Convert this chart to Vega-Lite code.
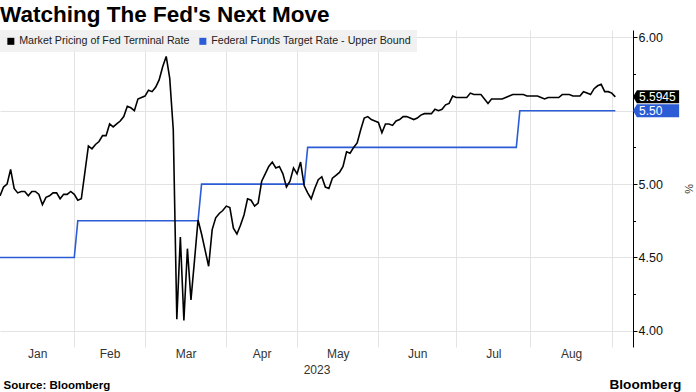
{
"$schema": "https://vega.github.io/schema/vega-lite/v6.json",
"width": 633, "height": 317,
"autosize": {"type": "none"},
"padding": {"left": 0, "top": 30, "right": 63, "bottom": 45},
"background": "white",
"config": {"view": {"stroke": null}, "font": "Liberation Sans"},
"title": {"text": "Watching The Fed's Next Move", "anchor": "start", "frame": "group", "font": "Liberation Sans", "fontSize": 22.5, "fontWeight": "bold", "color": "#000000", "offset": 4},
"datasets": {
"terminal": [
{"day":1,"rate":4.92},{"day":2,"rate":4.98},{"day":3,"rate":5.00},{"day":4,"rate":5.10},{"day":5,"rate":4.97},{"day":6,"rate":4.94},{"day":7,"rate":4.95},{"day":8,"rate":4.95},{"day":9,"rate":4.92},{"day":10,"rate":4.95},
{"day":11,"rate":4.95},{"day":12,"rate":4.93},{"day":13,"rate":4.86},{"day":14,"rate":4.91},{"day":15,"rate":4.92},{"day":16,"rate":4.94},{"day":17,"rate":4.94},{"day":18,"rate":4.90},{"day":19,"rate":4.93},{"day":20,"rate":4.93},
{"day":21,"rate":4.95},{"day":22,"rate":4.93},{"day":23,"rate":4.89},{"day":24,"rate":4.90},{"day":25,"rate":5.08},{"day":26,"rate":5.26},{"day":27,"rate":5.24},{"day":28,"rate":5.27},{"day":29,"rate":5.29},{"day":30,"rate":5.33},
{"day":31,"rate":5.33},{"day":32,"rate":5.41},{"day":33,"rate":5.39},{"day":34,"rate":5.41},{"day":35,"rate":5.43},{"day":36,"rate":5.46},{"day":37,"rate":5.53},{"day":38,"rate":5.52},{"day":39,"rate":5.50},{"day":40,"rate":5.58},
{"day":41,"rate":5.59},{"day":42,"rate":5.60},{"day":43,"rate":5.64},{"day":44,"rate":5.63},{"day":45,"rate":5.66},{"day":46,"rate":5.71},{"day":47,"rate":5.80},{"day":48,"rate":5.87},{"day":49,"rate":5.72},{"day":50,"rate":5.37},
{"day":51,"rate":4.08},{"day":52,"rate":4.64},{"day":53,"rate":4.07},{"day":54,"rate":4.56},{"day":55,"rate":4.21},{"day":56,"rate":4.48},{"day":57,"rate":4.755},{"day":58,"rate":4.66},{"day":59,"rate":4.55},{"day":60,"rate":4.44},
{"day":61,"rate":4.69},{"day":62,"rate":4.77},{"day":63,"rate":4.80},{"day":64,"rate":4.82},{"day":65,"rate":4.85},{"day":66,"rate":4.84},{"day":67,"rate":4.70},{"day":68,"rate":4.66},{"day":69,"rate":4.72},{"day":70,"rate":4.79},
{"day":71,"rate":4.90},{"day":72,"rate":4.89},{"day":73,"rate":4.85},{"day":74,"rate":4.87},{"day":75,"rate":5.02},{"day":76,"rate":5.07},{"day":77,"rate":5.12},{"day":78,"rate":5.15},{"day":79,"rate":5.11},{"day":80,"rate":5.12},
{"day":81,"rate":5.07},{"day":82,"rate":4.98},{"day":83,"rate":5.02},{"day":84,"rate":5.11},{"day":85,"rate":5.07},{"day":86,"rate":5.15},{"day":87,"rate":4.99},{"day":88,"rate":4.94},{"day":89,"rate":4.90},{"day":90,"rate":4.97},
{"day":91,"rate":5.03},{"day":92,"rate":5.05},{"day":93,"rate":4.98},{"day":94,"rate":4.97},{"day":95,"rate":5.04},{"day":96,"rate":5.06},{"day":97,"rate":5.08},{"day":98,"rate":5.12},{"day":99,"rate":5.22},{"day":100,"rate":5.21},
{"day":101,"rate":5.25},{"day":102,"rate":5.28},{"day":103,"rate":5.37},{"day":104,"rate":5.45},{"day":105,"rate":5.46},{"day":106,"rate":5.44},{"day":107,"rate":5.43},{"day":108,"rate":5.42},{"day":109,"rate":5.35},{"day":110,"rate":5.41},
{"day":111,"rate":5.41},{"day":112,"rate":5.40},{"day":113,"rate":5.43},{"day":114,"rate":5.44},{"day":115,"rate":5.46},{"day":116,"rate":5.46},{"day":117,"rate":5.45},{"day":118,"rate":5.44},{"day":119,"rate":5.45},{"day":120,"rate":5.47},
{"day":121,"rate":5.48},{"day":122,"rate":5.48},{"day":123,"rate":5.48},{"day":124,"rate":5.51},{"day":125,"rate":5.50},{"day":126,"rate":5.51},{"day":127,"rate":5.54},{"day":128,"rate":5.55},{"day":129,"rate":5.60},{"day":130,"rate":5.59},
{"day":131,"rate":5.59},{"day":132,"rate":5.59},{"day":133,"rate":5.59},{"day":134,"rate":5.62},{"day":135,"rate":5.61},{"day":136,"rate":5.61},{"day":137,"rate":5.61},{"day":138,"rate":5.58},{"day":139,"rate":5.55},{"day":140,"rate":5.58},
{"day":141,"rate":5.58},{"day":142,"rate":5.58},{"day":143,"rate":5.58},{"day":144,"rate":5.59},{"day":145,"rate":5.60},{"day":146,"rate":5.61},{"day":147,"rate":5.61},{"day":148,"rate":5.61},{"day":149,"rate":5.61},{"day":150,"rate":5.60},
{"day":151,"rate":5.60},{"day":152,"rate":5.60},{"day":153,"rate":5.60},{"day":154,"rate":5.59},{"day":155,"rate":5.58},{"day":156,"rate":5.59},{"day":157,"rate":5.59},{"day":158,"rate":5.59},{"day":159,"rate":5.59},{"day":160,"rate":5.61},
{"day":161,"rate":5.61},{"day":162,"rate":5.61},{"day":163,"rate":5.60},{"day":164,"rate":5.60},{"day":165,"rate":5.60},{"day":166,"rate":5.63},{"day":167,"rate":5.62},{"day":168,"rate":5.61},{"day":169,"rate":5.65},{"day":170,"rate":5.67},
{"day":171,"rate":5.68},{"day":172,"rate":5.63},{"day":173,"rate":5.63},{"day":174,"rate":5.62},{"day":175,"rate":5.5945}
],
"fedfunds": [
{"day":1,"rate":4.50},{"day":22,"rate":4.50},{"day":23,"rate":4.75},{"day":57,"rate":4.75},{"day":58,"rate":5.00},{"day":87,"rate":5.00},{"day":88,"rate":5.25},{"day":147,"rate":5.25},{"day":148,"rate":5.50},{"day":175,"rate":5.50}
],
"tags": [
{"series":"Market Pricing of Fed Terminal Rate","rate":5.5945,"label":"5.5945"},
{"series":"Federal Funds Target Rate - Upper Bound","rate":5.50,"label":"5.50"}
]
},
"layer": [
{
"data": {"name": "fedfunds"},
"mark": {"type": "line", "strokeWidth": 1.6},
"encoding": {
"x": {"field": "day", "type": "quantitative", "scale": {"domain": [1, 180], "nice": false, "zero": false},
"axis": {"orient": "top", "title": "Bloomberg", "labels": false, "ticks": false, "domain": false, "grid": false, "titleX": 609, "titleY": 358, "titleAlign": "left", "titleBaseline": "alphabetic", "titleAngle": 0, "titleFont": "Liberation Sans", "titleFontSize": 13.6, "titleFontWeight": "bold", "titleColor": "#000000"}},
"y": {"field": "rate", "type": "quantitative", "scale": {"domain": [3.89, 6.05], "nice": false, "zero": false},
"axis": {"orient": "left", "title": "Source: Bloomberg", "labels": false, "ticks": false, "domain": false, "grid": false, "titleX": 3, "titleY": 358, "titleAngle": 0, "titleAlign": "left", "titleBaseline": "alphabetic", "titleFont": "Liberation Sans", "titleFontSize": 11.5, "titleFontWeight": "bold", "titleColor": "#000000"}},
"color": {"datum": "Federal Funds Target Rate - Upper Bound", "type": "nominal"}
}
},
{
"data": {"name": "terminal"},
"mark": {"type": "line", "strokeWidth": 1.6},
"encoding": {
"x": {"field": "day", "type": "quantitative", "scale": {"domain": [1, 180], "nice": false, "zero": false},
"axis": {"orient": "bottom", "title": "2023", "values": [11.5, 22, 32, 42, 53.5, 65, 75, 85, 96.5, 108, 119, 130, 140.5, 151, 162.5, 174],
"labelExpr": "datum.value == 11.5 ? 'Jan' : datum.value == 32 ? 'Feb' : datum.value == 53.5 ? 'Mar' : datum.value == 75 ? 'Apr' : datum.value == 96.5 ? 'May' : datum.value == 119 ? 'Jun' : datum.value == 140.5 ? 'Jul' : datum.value == 162.5 ? 'Aug' : ''",
"ticks": false, "domain": false, "grid": true, "gridColor": "#e3e3e3", "gridWidth": 1,
"gridOpacity": {"condition": {"test": "indexof([22,42,65,85,108,130,151,174], datum.value) >= 0", "value": 1}, "value": 0},
"labelFlush": false, "labelOverlap": false, "labelBound": false, "labelPadding": 1, "labelFont": "Liberation Sans", "labelFontSize": 12, "labelColor": "#333333",
"titleFont": "Liberation Sans", "titleFontSize": 12, "titleFontWeight": "normal", "titleColor": "#333333", "titlePadding": 5}},
"y": {"field": "rate", "type": "quantitative", "scale": {"domain": [3.89, 6.05], "nice": false, "zero": false},
"axis": {"orient": "right", "title": "%", "values": [4, 4.25, 4.5, 4.75, 5, 5.25, 5.5, 5.75, 6],
"labelExpr": "datum.value % 0.5 == 0 ? format(datum.value, '.2f') : ''",
"tickSize": {"condition": {"test": "datum.value % 0.5 == 0", "value": 4}, "value": 2.5},
"tickColor": "#000000", "domainColor": "#000000", "domainWidth": 1,
"grid": true, "gridColor": "#e3e3e3", "gridOpacity": {"condition": {"test": "datum.value % 0.5 == 0", "value": 1}, "value": 0},
"labelFont": "Liberation Sans", "labelFontSize": 12.5, "labelColor": "#111111", "labelPadding": 1, "labelOverlap": false, "labelFlush": false,
"titleFont": "Liberation Sans", "titleFontSize": 11, "titleFontWeight": "normal", "titleColor": "#333333", "titlePadding": 20}},
"color": {"datum": "Market Pricing of Fed Terminal Rate", "type": "nominal", "title": null,
"scale": {"domain": ["Market Pricing of Fed Terminal Rate", "Federal Funds Target Rate - Upper Bound"], "range": ["#000000", "#2b5cd6"]},
"legend": {"orient": "none", "legendX": 0, "legendY": 0, "direction": "horizontal", "title": null, "symbolType": "square", "symbolSize": 49, "symbolStrokeWidth": 0,
"labelFont": "Liberation Sans", "labelFontSize": 10.7, "labelColor": "#222222", "labelOffset": 3, "labelLimit": 0, "columnPadding": 7, "padding": 5.5, "fillColor": "rgba(238,238,238,0.85)",
"encode": {"symbols": {"update": {"fill": {"scale": "color", "field": "value"}, "fillOpacity": {"value": 1}, "strokeWidth": {"value": 0}}}}}}
}
},
{
"data": {"name": "tags"},
"mark": {"type": "point", "shape": "M0,0L0.6,-1L7.1,-1L7.1,1L0.6,1Z", "size": 169, "filled": true, "opacity": 1, "strokeWidth": 0},
"encoding": {
"x": {"value": "width"},
"y": {"field": "rate", "type": "quantitative", "scale": {"domain": [3.89, 6.05], "nice": false, "zero": false}, "axis": null},
"color": {"field": "series", "type": "nominal", "title": null}
}
},
{
"data": {"name": "tags"},
"mark": {"type": "text", "align": "left", "baseline": "middle", "dx": 6, "font": "Liberation Sans", "fontSize": 12, "color": "#ffffff"},
"encoding": {
"x": {"value": "width"},
"y": {"field": "rate", "type": "quantitative", "scale": {"domain": [3.89, 6.05], "nice": false, "zero": false}, "axis": null},
"text": {"field": "label"}
}
}
],
"resolve": {"axis": {"x": "independent", "y": "independent"}}
}
